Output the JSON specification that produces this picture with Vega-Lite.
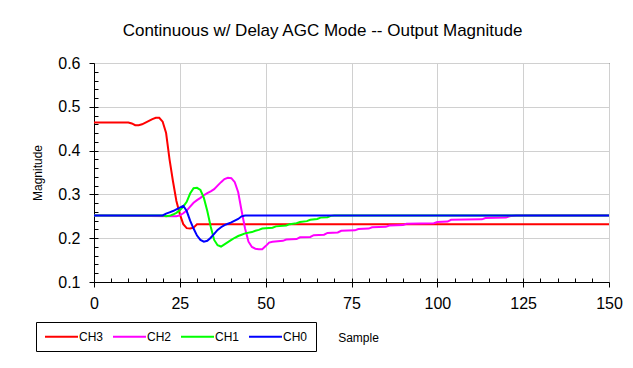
{
  "$schema": "https://vega.github.io/schema/vega-lite/v6.json",
  "width": 515,
  "height": 219,
  "autosize": "none",
  "padding": {"left": 94, "top": 63, "right": 24, "bottom": 86},
  "background": "white",
  "config": {
    "font": "Liberation Sans",
    "view": {"stroke": "black", "strokeWidth": 1}
  },
  "title": {
    "text": "Continuous w/ Delay AGC Mode -- Output Magnitude",
    "font": "Liberation Sans",
    "fontSize": 17,
    "fontWeight": "normal",
    "color": "black",
    "anchor": "middle",
    "dx": -29,
    "offset": 15
  },
  "data": {
    "values": [
      {"s": 0, "ch": "CH3", "v": 0.464},
      {"s": 10, "ch": "CH3", "v": 0.464},
      {"s": 11, "ch": "CH3", "v": 0.462},
      {"s": 12, "ch": "CH3", "v": 0.458},
      {"s": 13, "ch": "CH3", "v": 0.458},
      {"s": 14, "ch": "CH3", "v": 0.46},
      {"s": 15, "ch": "CH3", "v": 0.464},
      {"s": 16, "ch": "CH3", "v": 0.468},
      {"s": 17, "ch": "CH3", "v": 0.472},
      {"s": 18, "ch": "CH3", "v": 0.475},
      {"s": 19, "ch": "CH3", "v": 0.475},
      {"s": 20, "ch": "CH3", "v": 0.466},
      {"s": 21, "ch": "CH3", "v": 0.44},
      {"s": 22, "ch": "CH3", "v": 0.38},
      {"s": 23, "ch": "CH3", "v": 0.33},
      {"s": 24, "ch": "CH3", "v": 0.285},
      {"s": 25, "ch": "CH3", "v": 0.255},
      {"s": 26, "ch": "CH3", "v": 0.232},
      {"s": 27, "ch": "CH3", "v": 0.223},
      {"s": 28, "ch": "CH3", "v": 0.222},
      {"s": 29, "ch": "CH3", "v": 0.224},
      {"s": 30, "ch": "CH3", "v": 0.232},
      {"s": 150, "ch": "CH3", "v": 0.232},

      {"s": 0, "ch": "CH2", "v": 0.252},
      {"s": 24, "ch": "CH2", "v": 0.25},
      {"s": 25, "ch": "CH2", "v": 0.252},
      {"s": 26, "ch": "CH2", "v": 0.257},
      {"s": 27, "ch": "CH2", "v": 0.263},
      {"s": 28, "ch": "CH2", "v": 0.272},
      {"s": 29, "ch": "CH2", "v": 0.281},
      {"s": 30, "ch": "CH2", "v": 0.287},
      {"s": 31, "ch": "CH2", "v": 0.292},
      {"s": 32, "ch": "CH2", "v": 0.298},
      {"s": 33, "ch": "CH2", "v": 0.303},
      {"s": 34, "ch": "CH2", "v": 0.307},
      {"s": 35, "ch": "CH2", "v": 0.312},
      {"s": 36, "ch": "CH2", "v": 0.32},
      {"s": 37, "ch": "CH2", "v": 0.328},
      {"s": 38, "ch": "CH2", "v": 0.335},
      {"s": 39, "ch": "CH2", "v": 0.338},
      {"s": 40, "ch": "CH2", "v": 0.337},
      {"s": 41, "ch": "CH2", "v": 0.328},
      {"s": 42, "ch": "CH2", "v": 0.305},
      {"s": 43, "ch": "CH2", "v": 0.262},
      {"s": 44, "ch": "CH2", "v": 0.222},
      {"s": 45, "ch": "CH2", "v": 0.192},
      {"s": 46, "ch": "CH2", "v": 0.18},
      {"s": 47, "ch": "CH2", "v": 0.176},
      {"s": 48, "ch": "CH2", "v": 0.175},
      {"s": 49, "ch": "CH2", "v": 0.175},
      {"s": 50, "ch": "CH2", "v": 0.182},
      {"s": 51, "ch": "CH2", "v": 0.19},
      {"s": 52, "ch": "CH2", "v": 0.192},
      {"s": 55, "ch": "CH2", "v": 0.194},
      {"s": 56, "ch": "CH2", "v": 0.197},
      {"s": 59, "ch": "CH2", "v": 0.198},
      {"s": 60, "ch": "CH2", "v": 0.202},
      {"s": 63, "ch": "CH2", "v": 0.203},
      {"s": 64, "ch": "CH2", "v": 0.207},
      {"s": 67, "ch": "CH2", "v": 0.208},
      {"s": 68, "ch": "CH2", "v": 0.212},
      {"s": 71, "ch": "CH2", "v": 0.213},
      {"s": 72, "ch": "CH2", "v": 0.217},
      {"s": 76, "ch": "CH2", "v": 0.218},
      {"s": 77, "ch": "CH2", "v": 0.221},
      {"s": 80, "ch": "CH2", "v": 0.222},
      {"s": 81, "ch": "CH2", "v": 0.225},
      {"s": 85, "ch": "CH2", "v": 0.226},
      {"s": 86, "ch": "CH2", "v": 0.229},
      {"s": 90, "ch": "CH2", "v": 0.23},
      {"s": 91, "ch": "CH2", "v": 0.233},
      {"s": 99, "ch": "CH2", "v": 0.234},
      {"s": 100, "ch": "CH2", "v": 0.237},
      {"s": 103, "ch": "CH2", "v": 0.238},
      {"s": 104, "ch": "CH2", "v": 0.242},
      {"s": 113, "ch": "CH2", "v": 0.243},
      {"s": 114, "ch": "CH2", "v": 0.246},
      {"s": 120, "ch": "CH2", "v": 0.247},
      {"s": 121, "ch": "CH2", "v": 0.25},
      {"s": 123, "ch": "CH2", "v": 0.252},
      {"s": 150, "ch": "CH2", "v": 0.252},

      {"s": 0, "ch": "CH1", "v": 0.252},
      {"s": 20, "ch": "CH1", "v": 0.252},
      {"s": 21, "ch": "CH1", "v": 0.25},
      {"s": 22, "ch": "CH1", "v": 0.251},
      {"s": 23, "ch": "CH1", "v": 0.254},
      {"s": 24, "ch": "CH1", "v": 0.258},
      {"s": 25, "ch": "CH1", "v": 0.264},
      {"s": 26, "ch": "CH1", "v": 0.272},
      {"s": 27, "ch": "CH1", "v": 0.283},
      {"s": 28, "ch": "CH1", "v": 0.302},
      {"s": 29, "ch": "CH1", "v": 0.314},
      {"s": 30, "ch": "CH1", "v": 0.315},
      {"s": 31, "ch": "CH1", "v": 0.31},
      {"s": 32, "ch": "CH1", "v": 0.292},
      {"s": 33, "ch": "CH1", "v": 0.262},
      {"s": 34, "ch": "CH1", "v": 0.226},
      {"s": 35, "ch": "CH1", "v": 0.196},
      {"s": 36, "ch": "CH1", "v": 0.184},
      {"s": 37, "ch": "CH1", "v": 0.181},
      {"s": 38, "ch": "CH1", "v": 0.186},
      {"s": 39, "ch": "CH1", "v": 0.191},
      {"s": 40, "ch": "CH1", "v": 0.196},
      {"s": 41, "ch": "CH1", "v": 0.201},
      {"s": 42, "ch": "CH1", "v": 0.205},
      {"s": 43, "ch": "CH1", "v": 0.208},
      {"s": 44, "ch": "CH1", "v": 0.211},
      {"s": 46, "ch": "CH1", "v": 0.214},
      {"s": 47, "ch": "CH1", "v": 0.217},
      {"s": 48, "ch": "CH1", "v": 0.219},
      {"s": 49, "ch": "CH1", "v": 0.222},
      {"s": 52, "ch": "CH1", "v": 0.224},
      {"s": 53, "ch": "CH1", "v": 0.227},
      {"s": 56, "ch": "CH1", "v": 0.229},
      {"s": 57, "ch": "CH1", "v": 0.232},
      {"s": 59, "ch": "CH1", "v": 0.234},
      {"s": 60, "ch": "CH1", "v": 0.237},
      {"s": 62, "ch": "CH1", "v": 0.239},
      {"s": 63, "ch": "CH1", "v": 0.242},
      {"s": 65, "ch": "CH1", "v": 0.244},
      {"s": 66, "ch": "CH1", "v": 0.247},
      {"s": 68, "ch": "CH1", "v": 0.248},
      {"s": 69, "ch": "CH1", "v": 0.251},
      {"s": 70, "ch": "CH1", "v": 0.252},
      {"s": 150, "ch": "CH1", "v": 0.252},

      {"s": 0, "ch": "CH0", "v": 0.252},
      {"s": 20, "ch": "CH0", "v": 0.252},
      {"s": 21, "ch": "CH0", "v": 0.256},
      {"s": 22, "ch": "CH0", "v": 0.259},
      {"s": 23, "ch": "CH0", "v": 0.262},
      {"s": 24, "ch": "CH0", "v": 0.266},
      {"s": 25, "ch": "CH0", "v": 0.27},
      {"s": 26, "ch": "CH0", "v": 0.274},
      {"s": 27, "ch": "CH0", "v": 0.262},
      {"s": 28, "ch": "CH0", "v": 0.24},
      {"s": 29, "ch": "CH0", "v": 0.222},
      {"s": 30, "ch": "CH0", "v": 0.206},
      {"s": 31, "ch": "CH0", "v": 0.196},
      {"s": 32, "ch": "CH0", "v": 0.192},
      {"s": 33, "ch": "CH0", "v": 0.194},
      {"s": 34, "ch": "CH0", "v": 0.201},
      {"s": 35, "ch": "CH0", "v": 0.21},
      {"s": 36, "ch": "CH0", "v": 0.219},
      {"s": 37, "ch": "CH0", "v": 0.225},
      {"s": 38, "ch": "CH0", "v": 0.23},
      {"s": 39, "ch": "CH0", "v": 0.233},
      {"s": 40, "ch": "CH0", "v": 0.236},
      {"s": 41, "ch": "CH0", "v": 0.24},
      {"s": 42, "ch": "CH0", "v": 0.244},
      {"s": 43, "ch": "CH0", "v": 0.25},
      {"s": 44, "ch": "CH0", "v": 0.252},
      {"s": 150, "ch": "CH0", "v": 0.252}
    ]
  },
  "layer": [
    {
      "mark": {"type": "line", "strokeWidth": 2},
      "encoding": {
        "x": {
          "field": "s",
          "type": "quantitative",
          "scale": {"domain": [0, 150], "nice": false, "zero": false},
          "axis": {
            "values": [0, 25, 50, 75, 100, 125, 150],
            "labelFontSize": 16,
            "labelColor": "black",
            "labelPadding": 8,
            "labelFlush": false,
            "labelOverlap": false,
            "labelBound": false,
            "tickColor": "black",
            "tickSize": 5,
            "domainColor": "black",
            "gridColor": "#d0d0d0",
            "title": "Sample",
            "titleFontSize": 12,
            "titleFontWeight": "normal",
            "titleColor": "black",
            "titleX": 264,
            "titleY": 55,
            "titleAlign": "center",
            "titleBaseline": "middle"
          }
        },
        "y": {
          "field": "v",
          "type": "quantitative",
          "scale": {"domain": [0.1, 0.6], "nice": false, "zero": false},
          "axis": {
            "values": [0.1, 0.2, 0.3, 0.4, 0.5, 0.6],
            "format": ".1f",
            "labelFontSize": 16,
            "labelColor": "black",
            "labelPadding": 9,
            "labelOverlap": false,
            "labelBound": false,
            "labelFlush": false,
            "tickColor": "black",
            "tickSize": 5,
            "domainColor": "black",
            "gridColor": "#d0d0d0",
            "title": "Magnitude",
            "titleFontSize": 12,
            "titleFontWeight": "normal",
            "titleColor": "black",
            "titleX": -57,
            "titleY": 109.5,
            "titleAngle": -90,
            "titleAlign": "center",
            "titleBaseline": "middle"
          }
        },
        "color": {
          "field": "ch",
          "type": "nominal",
          "scale": {
            "domain": ["CH3", "CH2", "CH1", "CH0"],
            "range": ["#ff0000", "#ff00ff", "#00ff00", "#0000ff"]
          },
          "legend": {
            "orient": "none",
            "legendX": -58,
            "legendY": 259,
            "direction": "horizontal",
            "title": null,
            "symbolType": "M-3,0H3",
            "symbolSize": 121,
            "symbolStrokeWidth": 2,
            "symbolOffset": 11,
            "labelFontSize": 12,
            "labelColor": "black",
            "labelOffset": 11,
            "columnPadding": 5,
            "strokeColor": "black",
            "padding": 8,
            "fillColor": "white"
          }
        }
      }
    },
    {
      "mark": {"type": "line", "opacity": 0},
      "encoding": {
        "x": {
          "field": "s",
          "type": "quantitative",
          "scale": {"domain": [0, 150], "nice": false, "zero": false},
          "axis": {
            "orient": "bottom",
            "values": [5, 10, 15, 20, 25, 30, 35, 40, 45, 50, 55, 60, 65, 70, 75, 80, 85, 90, 95, 100, 105, 110, 115, 120, 125, 130, 135, 140, 145],
            "labels": false,
            "domain": false,
            "grid": false,
            "tickColor": "black",
            "tickSize": -4,
            "title": null
          }
        },
        "y": {
          "field": "v",
          "type": "quantitative",
          "scale": {"domain": [0.1, 0.6], "nice": false, "zero": false},
          "axis": {
            "orient": "left",
            "values": [0.12, 0.14, 0.16, 0.18, 0.2, 0.22, 0.24, 0.26, 0.28, 0.3, 0.32, 0.34, 0.36, 0.38, 0.4, 0.42, 0.44, 0.46, 0.48, 0.5, 0.52, 0.54, 0.56, 0.58],
            "labels": false,
            "domain": false,
            "grid": false,
            "tickColor": "black",
            "tickSize": -4,
            "title": null
          }
        },
        "detail": {"field": "ch"}
      }
    }
  ],
  "resolve": {"axis": {"x": "independent", "y": "independent"}}
}
